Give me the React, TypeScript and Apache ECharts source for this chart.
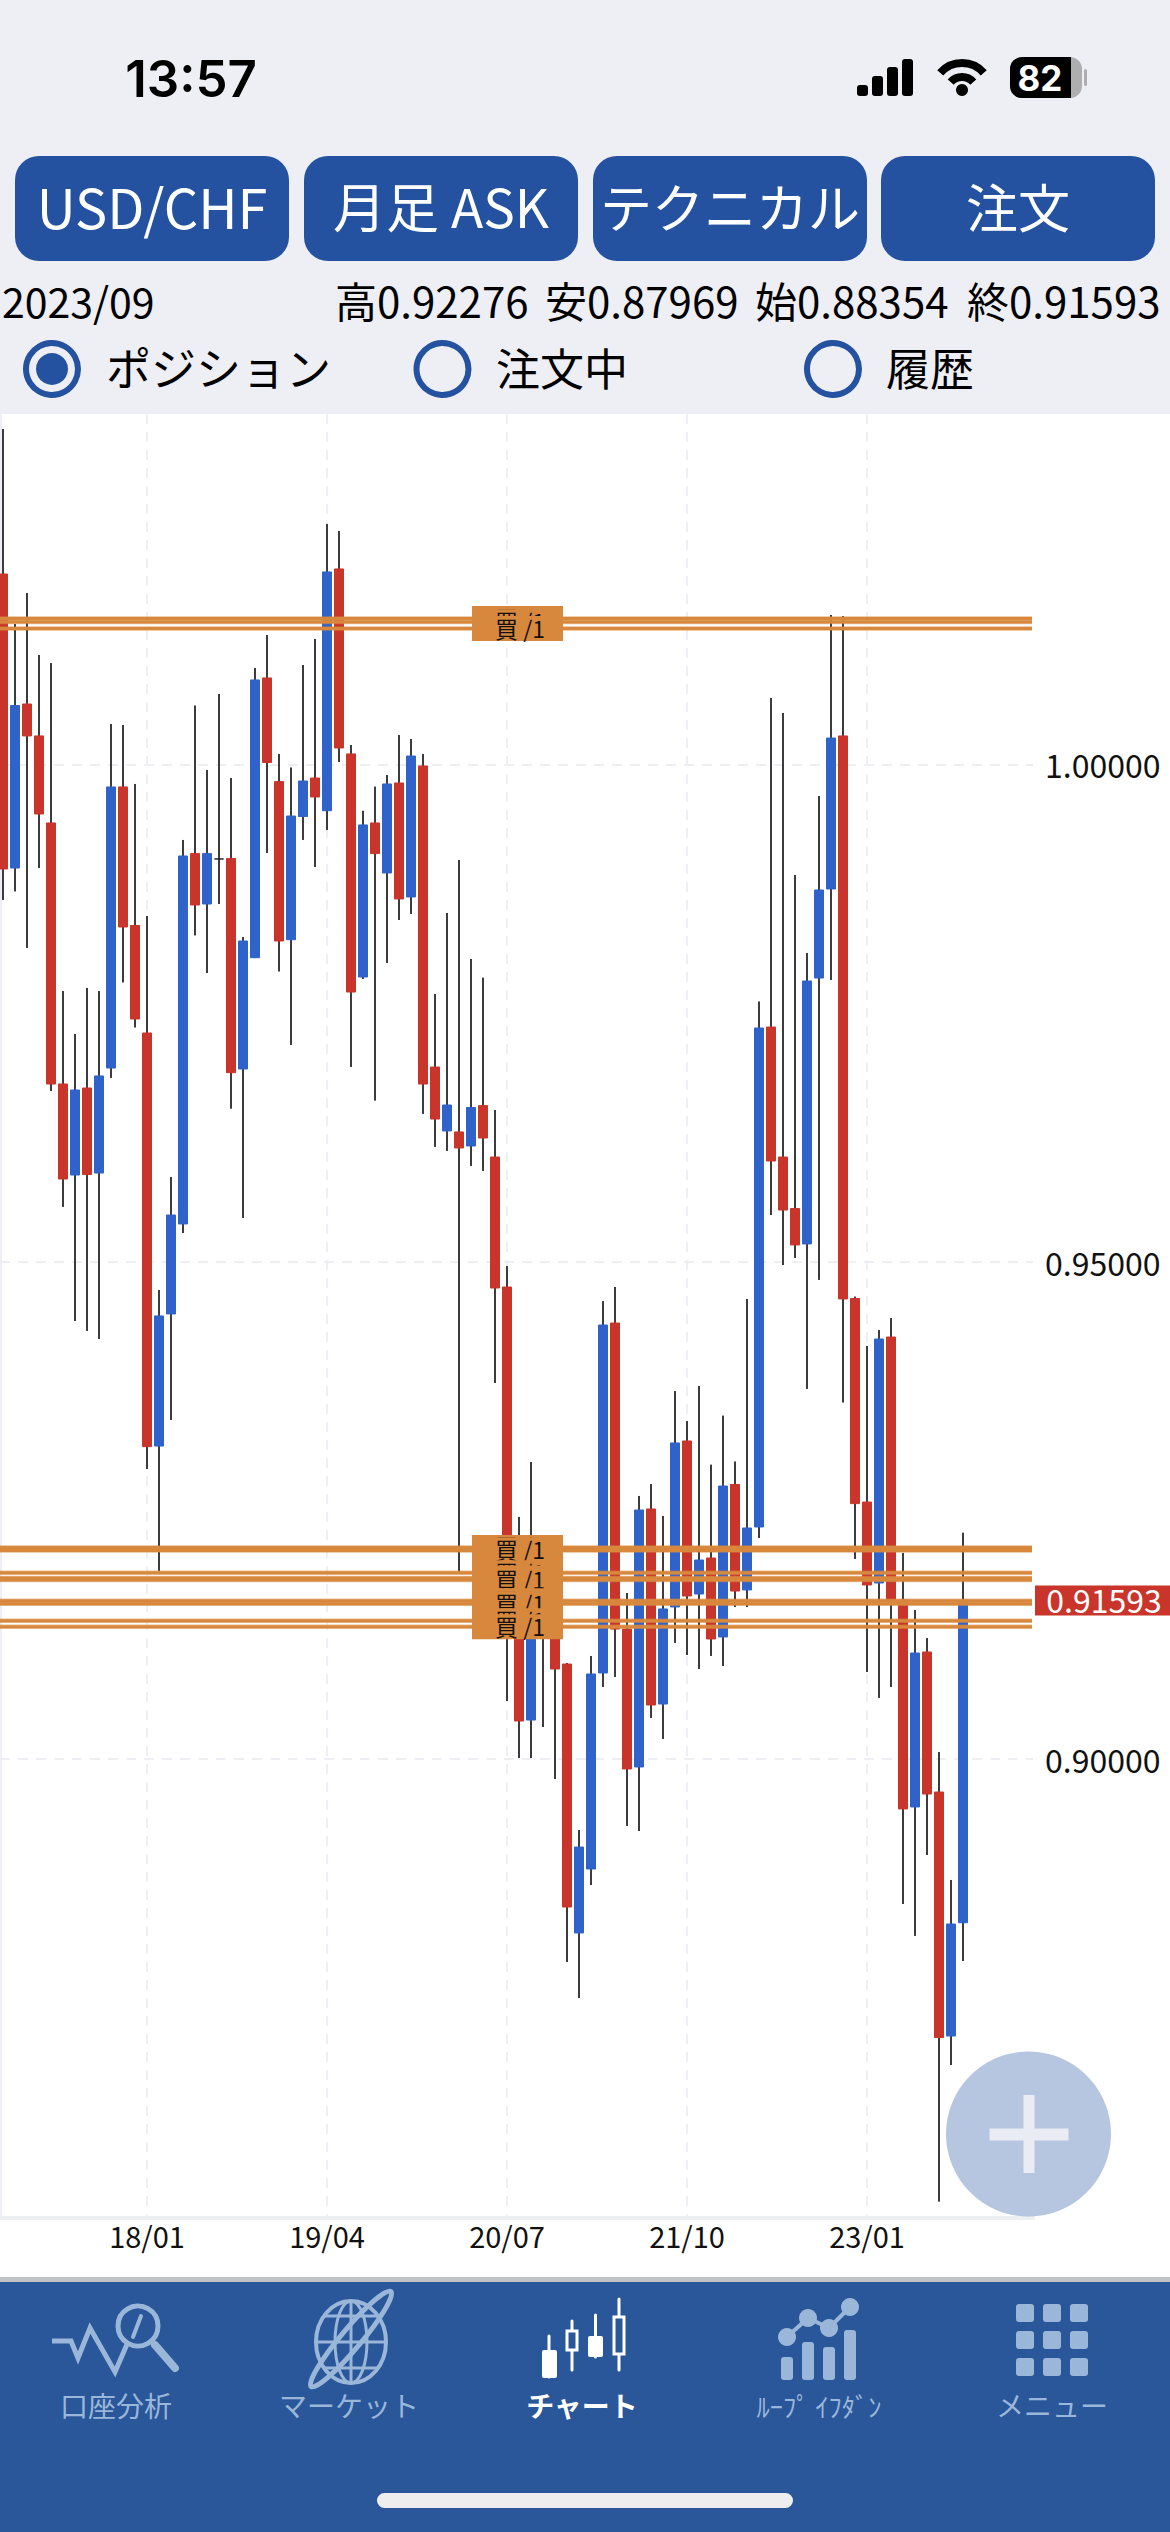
import React, { useEffect, useRef } from "react";
import * as echarts from "echarts";

const opens = [1.01915,.98959,1.00608,1.00287,.99412,.96787,.95872,.96747,.95892,.96948,.99774,.98381,.973,.93147,.94475,.9538,.99104,.98597,.9905,.99054,.96938,.98057,1.0087,.99828,.98238,.99477,.99864,.99535,1.01966,1.00106,.97863,.99412,.98909,.99814,.98668,.99985,.96958,.96315,.96305,.96164,.9657,.96053,.94746,.92001,.90392,.91348,.91348,.90955,.88251,.88894,.90865,.94384,.91307,.8992,.92514,.90553,.91529,.93198,.91659,.92021,.91227,.9276,.917,.92333,.9736,.96053,.95535,.95179,.97853,.98748,1.00287,.9463,.92584,.9177,.94243,.91599,.89518,.91076,.89668,.87215,.88354];
const closes = [.98949,1.00593,1.00287,.99502,.96787,.95832,.96727,.95877,.96868,.99774,.98366,.97441,.93141,.94455,.9547,.9908,.98587,.99104,.9905,.96901,.98225,1.0085,1.0002,.98225,.99482,.99834,.99673,1.01936,1.00166,.97712,.99392,.99104,.99804,.98648,1.00085,.96787,.96435,.96576,.96144,.96551,.96244,.94736,.91398,.90382,.91599,.917,.90905,.88512,.89115,.90855,.94364,.91307,.899,.92504,.90543,.91509,.93178,.91639,.92001,.91207,.92745,.91689,.92323,.9735,.96013,.9552,.95169,.97823,.98738,1.00266,.94626,.92568,.9175,.94223,.91599,.89498,.91066,.89648,.872,.88341,.91593];
const lows = [.98637,.98723,.98155,.98959,.96717,.95551,.94404,.94304,.94223,.96848,.97808,.97355,.92916,.91891,.93409,.95289,.98281,.97903,.98597,.96539,.9544,.98054,.9911,.97918,.9718,.99241,.98969,.99341,1.00025,.96958,.97843,.9662,.98004,.98436,.98497,.96486,.96154,.96114,.9186,.95963,.95913,.93781,.90583,.9001,.9001,.90322,.89799,.87959,.87597,.88733,.90724,.90825,.89327,.89276,.90413,.90201,.91167,.91046,.90905,.91036,.90935,.91528,.91528,.92222,.9547,.94967,.95038,.93721,.94817,.97833,.93584,.92011,.90875,.90614,.90724,.88542,.88221,.89035,.85549,.86923,.87969];
const highs = [1.03373,1.01413,1.01724,1.01101,1.0102,.97722,.9729,.97753,.97722,1.00407,1.00397,.99804,.98477,.94716,.95852,.99241,1.00593,.99945,1.00709,.99864,.98265,1.0097,1.01302,1.00106,.9997,1.01,1.01262,1.02418,1.02348,1.00196,.99535,.99778,.99894,1.00296,1.00256,1.00106,.97692,.98507,.9904,.98044,.97857,.96526,.94957,.92434,.92987,.92152,.91498,.90965,.89286,.91036,.94605,.94746,.91669,.92645,.92765,.92444,.937,.93399,.93751,.9296,.93453,.92992,.94626,.97617,1.00669,1.00518,.98889,.98105,.99683,1.01503,1.01493,.9465,.94153,.94314,.94434,.92072,.91498,.91217,.90071,.88784,.92276];

const positionPrices = [1.01467,1.01433,1.01366,.92127,.92097,.91874,.9182,.918,.91592,.91562,.91391,.91331];
const lastPrice = [0.91593];
const yTicks = [0.9, 0.95, 1.0];
const xTickLabels = ["18/01", "19/04", "20/07", "21/10", "23/01"];

const SANS = '"Noto Sans CJK JP","Noto Sans",sans-serif';
const BLUE = "#2f63c9", RED = "#c9352b", WICK = "#3c3c3c", ORANGE = "#d8883c";
const GRID = "#eeeff4", NAVY = "#2452a0", TAB = "#2a5799", MUTED = "#9ab6d9";
const YMIN = 0.85385, YMAX = 1.03524;

const categories: string[] = [];
for (let k = 0; k < 86; k++) {
  const y = 17 + Math.floor(k / 12);
  const m = (k % 12) + 1;
  categories.push(`${y}/${String(m).padStart(2, "0")}`);
}
const isTick = (i: number) => xTickLabels.includes(categories[i]);

const T = (text: string, x: number, y: number, size: number, fill: string, align = "center", weight: any = 400, family = SANS) => ({
  type: "text", x, y: family === SANS ? y - size * 0.055 : y, z: 100, silent: true,
  style: { text, fill, fontSize: size, fontFamily: family, fontWeight: weight, align, verticalAlign: "middle" },
});
const R = (x: number, y: number, width: number, height: number, fill: string, r: any = 0) => ({
  type: "rect", z: 90, silent: true, shape: { x, y, width, height, r }, style: { fill },
});
const C = (cx: number, cy: number, r: number, style: any, z = 95) => ({
  type: "circle", z, silent: true, shape: { cx, cy, r }, style,
});
const L = (x1: number, y1: number, x2: number, y2: number, stroke: string, lineWidth: number, z = 95) => ({
  type: "line", z, silent: true, shape: { x1, y1, x2, y2 }, style: { stroke, lineWidth, lineCap: "round" },
});

function chromeGraphics() {
  const g: any[] = [];
  g.push(R(0, 0, 1170, 414, GRID));
  g.push(T("13:57", 191, 78, 51, "#000", "center", 600, "Inter,sans-serif"));
  // status icons
  [[857, 85], [872, 76], [887, 67], [902, 59]].forEach(([x, y]) => g.push({ ...R(x, y, 11, 96 - y, "#000", 3), z: 95 }));
  g.push({ type: "arc", z: 95, silent: true, shape: { cx: 962, cy: 92, r: 29, startAngle: -Math.PI * 0.77, endAngle: -Math.PI * 0.23, clockwise: true }, style: { stroke: "#000", lineWidth: 8, fill: "none" } });
  g.push({ type: "arc", z: 95, silent: true, shape: { cx: 962, cy: 92, r: 15, startAngle: -Math.PI * 0.77, endAngle: -Math.PI * 0.23, clockwise: true }, style: { stroke: "#000", lineWidth: 8, fill: "none" } });
  g.push(C(962, 90, 6, { fill: "#000" }));
  g.push({ ...R(1010, 57, 72, 41, "#aeaeb0", 12), z: 94 });
  g.push({ ...R(1010, 57, 61, 41, "#000", [12, 0, 0, 12]), z: 95 });
  g.push({ ...R(1084, 69, 3, 17, "#aeaeb0", 1.5), z: 95 });
  g.push(T("82", 1040, 78, 35, "#fff", "center", 700, "Inter,sans-serif"));
  // buttons
  [[15, "USD/CHF", 54], [304, "月足 ASK", 53], [593, "テクニカル", 52], [881, "注文", 52]].forEach(([x, s, size]: any) => {
    g.push(R(x, 156, 274, 105, NAVY, 24));
    g.push(T(s, x + 137, 208, size, "#fff"));
  });
  // info row
  g.push(T("2023/09", 2, 302, 41, "#000", "left"));
  [[335, "高0.92276"], [545, "安0.87969"], [755, "始0.88354"], [967, "終0.91593"]].forEach(([x, s]: any) => g.push(T(s, x, 302, 42, "#000", "left")));
  // radio row
  [[52, "ポジション", 106, true, 45], [442.5, "注文中", 496, false, 44], [833, "履歴", 886, false, 44]].forEach(([cx, s, tx, on, size]: any) => {
    g.push(C(cx, 369, 26, { fill: "none", stroke: NAVY, lineWidth: 6 }));
    if (on) g.push(C(cx, 369, 16, { fill: NAVY }));
    g.push(T(s, tx, 369, size, "#000", "left"));
  });
  // floating + button
  g.push(C(1028.5, 2134, 82.5, { fill: "rgba(36,82,160,0.33)" }, 96));
  g.push({ ...R(989.5, 2128.5, 79, 12, "#eaecf3"), z: 97 });
  g.push({ ...R(1023.5, 2095, 11, 78, "#eaecf3"), z: 97 });
  // tab bar
  g.push(R(0, 2277, 1170, 5, "#c2c3c7"));
  g.push(R(0, 2282, 1170, 250, TAB));
  g.push({ ...R(377, 2493, 416, 15, "#eeeeef", 7.5), z: 95 });
  [["口座分析", 116, false], ["マーケット", 349, false], ["チャート", 582, true], ["ﾙｰﾌﾟ ｲﾌﾀﾞﾝ", 819, false], ["メニュー", 1052, false]].forEach(([s, x, on]: any) =>
    g.push(T(s, x, 2407, s.startsWith("ﾙ") ? 26.5 : 28, on ? "#fff" : MUTED, "center", on ? 700 : 400)));
  // icon 1
  g.push({ type: "polyline", z: 95, silent: true, shape: { points: [[52, 2341], [71, 2341], [78, 2358], [90, 2328], [115, 2372], [128, 2342]] }, style: { stroke: MUTED, lineWidth: 5, fill: "none" } });
  g.push(C(138, 2326, 20, { fill: "none", stroke: MUTED, lineWidth: 5 }));
  g.push(L(133, 2337, 141, 2316, MUTED, 4));
  g.push(L(155, 2345, 175, 2368, MUTED, 8));
  // icon 2 globe
  g.push({ type: "ellipse", z: 95, silent: true, shape: { cx: 351, cy: 2342, rx: 35, ry: 41 }, style: { fill: "none", stroke: MUTED, lineWidth: 4 } });
  g.push({ type: "ellipse", z: 95, silent: true, shape: { cx: 351, cy: 2342, rx: 16, ry: 41 }, style: { fill: "none", stroke: MUTED, lineWidth: 3 } });
  g.push(L(316, 2342, 386, 2342, MUTED, 3));
  g.push(L(351, 2301, 351, 2383, MUTED, 3));
  g.push(L(325, 2316, 377, 2316, MUTED, 3));
  g.push(L(325, 2368, 377, 2368, MUTED, 3));
  g.push({ type: "ellipse", z: 95, silent: true, x: 351, y: 2339, rotation: Math.PI / 3.6, shape: { cx: 0, cy: 0, rx: 62, ry: 10 }, style: { fill: "none", stroke: MUTED, lineWidth: 5 } });
  // icon 3 candles
  g.push(L(549, 2336, 549, 2377, "#fff", 3));
  g.push({ ...R(542, 2350, 15, 28, "#fff", 2), z: 96 });
  g.push(L(572, 2321, 572, 2370, "#fff", 3));
  g.push({ type: "rect", z: 96, silent: true, shape: { x: 567, y: 2331, width: 10, height: 19 }, style: { fill: TAB, stroke: "#fff", lineWidth: 3 } });
  g.push(L(595.5, 2315, 595.5, 2357, "#fff", 3));
  g.push({ ...R(588, 2336, 15, 21, "#fff", 2), z: 96 });
  g.push(L(619, 2299, 619, 2370, "#fff", 3));
  g.push({ type: "rect", z: 96, silent: true, shape: { x: 614, y: 2317, width: 10, height: 37 }, style: { fill: TAB, stroke: "#fff", lineWidth: 3 } });
  // icon 4
  [[781, 2357], [802, 2342], [823, 2347], [844, 2330]].forEach(([x, y]) => g.push({ ...R(x, y, 12, 2380 - y, MUTED, 3), z: 95 }));
  g.push({ type: "polyline", z: 95, silent: true, shape: { points: [[787, 2337], [808, 2318], [829, 2328], [850, 2307]] }, style: { stroke: MUTED, lineWidth: 4, fill: "none" } });
  [[787, 2337], [808, 2318], [829, 2328], [850, 2307]].forEach(([x, y]) => g.push(C(x, y, 9, { fill: MUTED }, 96)));
  // icon 5
  [1016, 1043, 1070].forEach((x) => [2304, 2331, 2358].forEach((y) => g.push({ ...R(x, y, 18, 18, MUTED, 3), z: 95 })));
  return g;
}

const wickStyle = { color: WICK, color0: WICK, borderColor: WICK, borderColor0: WICK, borderColorDoji: WICK, borderWidth: 1 };
const wickData = opens.map((o, i) => [o, closes[i], lows[i], highs[i]]);

export default function App() {
  const ref = useRef<HTMLDivElement>(null);
  useEffect(() => {
    document.body.style.margin = "0";
    const chart = echarts.init(ref.current!, null, { renderer: "svg" });
    const option: any = {
      animation: false,
      backgroundColor: "#fff",
      textStyle: { fontFamily: SANS },
      grid: [
        { left: 0, top: 414, width: 1033, height: 1804, containLabel: false, outerBoundsMode: "none" },
        { left: -3, top: 414, width: 1032, height: 1804, containLabel: false, outerBoundsMode: "none" },
        { left: -2, top: 414, width: 1032, height: 1804, containLabel: false, outerBoundsMode: "none" },
      ],
      xAxis: [
        { type: "value", gridIndex: 0, min: 0, max: 1, axisLabel: { show: false }, axisTick: { show: false }, splitLine: { show: false }, axisLine: { show: true, onZero: false, lineStyle: { color: GRID, width: 4 } } },
        {
          type: "category", gridIndex: 1, data: categories, boundaryGap: true,
          axisLine: { show: false }, axisTick: { show: false, alignWithLabel: true, interval: (i: number) => isTick(i) },
          axisLabel: { interval: (i: number) => isTick(i), fontSize: 29, color: "#111", margin: 2, fontFamily: SANS, lineHeight: 30 },
          splitLine: { show: true, alignWithLabel: true, interval: (i: number) => isTick(i), lineStyle: { color: GRID, width: 2, type: [10, 8] } },
        },
        { type: "category", gridIndex: 2, data: categories, boundaryGap: true, show: false, splitLine: { show: false } },
      ],
      yAxis: [
        {
          type: "value", gridIndex: 0, position: "right", min: YMIN, max: YMAX, scale: true,
          axisLine: { show: true, lineStyle: { color: GRID, width: 3 } },
          axisTick: { show: false, customValues: yTicks },
          axisLabel: { customValues: yTicks, formatter: (v: number) => v.toFixed(5), fontSize: 32, color: "#111", margin: 12, fontFamily: SANS, padding: [0, 0, 5, 0] },
          splitLine: { show: true, lineStyle: { color: GRID, width: 2, type: [10, 8] } },
        },
        { type: "value", gridIndex: 1, min: YMIN, max: YMAX, scale: true, show: false, splitLine: { show: false } },
        { type: "value", gridIndex: 2, min: YMIN, max: YMAX, scale: true, show: false, splitLine: { show: false } },
      ],
      series: [
        { name: "wickLeft", type: "candlestick", xAxisIndex: 1, yAxisIndex: 1, barWidth: 1, z: 3, data: wickData, itemStyle: wickStyle },
        { name: "wickRight", type: "candlestick", xAxisIndex: 2, yAxisIndex: 2, barWidth: 1, z: 3, data: wickData, itemStyle: wickStyle },
        {
          name: "body", type: "candlestick", xAxisIndex: 1, yAxisIndex: 1, barWidth: 9, z: 4,
          data: opens.map((o, i) => [o, closes[i], Math.min(o, closes[i]), Math.max(o, closes[i])]),
          itemStyle: { color: BLUE, color0: RED, borderColor: BLUE, borderColor0: RED, borderColorDoji: "#222", borderWidth: 1 },
        },
        {
          name: "positionLines", type: "custom", xAxisIndex: 0, yAxisIndex: 0, z: 5, encode: { y: 0 },
          data: positionPrices.map((p) => [p]),
          renderItem: (_: any, api: any) => {
            const a = api.coord([0, api.value(0)]);
            const b = api.coord([1, api.value(0)]);
            return {
              type: "group",
              children: [
                { type: "line", shape: { x1: a[0], y1: a[1], x2: b[0] - 1, y2: a[1] }, style: { stroke: "rgba(216,136,60,0.55)", lineWidth: 4.5 } },
                { type: "line", shape: { x1: a[0], y1: a[1], x2: b[0] - 1, y2: a[1] }, style: { stroke: ORANGE, lineWidth: 3 } },
              ],
            };
          },
        },
        {
          name: "positionLabels", type: "custom", xAxisIndex: 0, yAxisIndex: 0, z: 6, encode: { y: 0 },
          data: positionPrices.map((p) => [p]),
          renderItem: (_: any, api: any) => {
            const y = api.coord([0, api.value(0)])[1];
            return {
              type: "group",
              children: [
                { type: "rect", shape: { x: 472, y: y - 12.5, width: 91, height: 25 }, style: { fill: ORANGE } },
                { type: "text", x: 495, y: y - 1, style: { text: "買 /1", fill: "#111", fontSize: 23, fontFamily: SANS, align: "left", verticalAlign: "middle" } },
              ],
            };
          },
        },
        {
          name: "lastPrice", type: "custom", xAxisIndex: 0, yAxisIndex: 0, z: 7, encode: { y: 0 },
          data: lastPrice.map((p) => [p]),
          renderItem: (_: any, api: any) => {
            const v = api.value(0);
            const y = api.coord([0, v])[1];
            return {
              type: "group",
              children: [
                { type: "rect", shape: { x: 1035, y: y - 15, width: 135, height: 30 }, style: { fill: RED } },
                { type: "text", x: 1104, y: y - 1.5, style: { text: v.toFixed(5), fill: "#fff", fontSize: 32, fontFamily: SANS, align: "center", verticalAlign: "middle" } },
              ],
            };
          },
        },
      ],
      graphic: { elements: chromeGraphics() },
    };
    chart.setOption(option);
    return () => chart.dispose();
  }, []);
  return <div ref={ref} style={{ width: 1170, height: 2532 }} />;
}
